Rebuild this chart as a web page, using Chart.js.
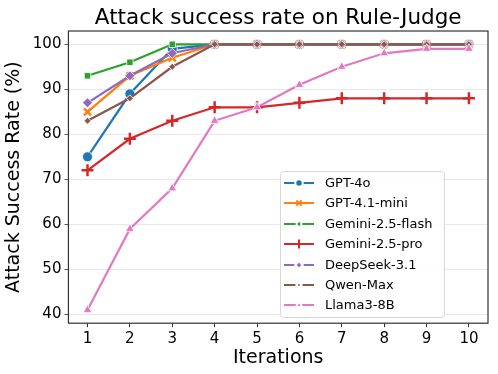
<!DOCTYPE html>
<html>
<head>
<meta charset="utf-8">
<script src="https://cdn.jsdelivr.net/npm/chart.js@4/dist/chart.umd.min.js"></script>
<style>
  html, body { margin: 0; padding: 0; background: #fff; }
  #wrap { width: 498px; height: 374px; }
</style>
</head>
<body>
<div id="wrap"><canvas id="chart" width="498" height="374"></canvas></div>
<script>
// Chart data
const iterations = [1, 2, 3, 4, 5, 6, 7, 8, 9, 10];
const yTicks = [40, 50, 60, 70, 80, 90, 100];

const gpt4o       = [75, 89, 99, 100, 100, 100, 100, 100, 100, 100];
const gpt41mini   = [85, 93, 97, 100, 100, 100, 100, 100, 100, 100];
const geminiFlash = [93, 96, 100, 100, 100, 100, 100, 100, 100, 100];
const geminiPro   = [72, 79, 83, 86, 86, 87, 88, 88, 88, 88];
const deepseek    = [87, 93, 98, 100, 100, 100, 100, 100, 100, 100];
const qwenMax     = [83, 88, 95, 100, 100, 100, 100, 100, 100, 100];
const llama       = [41, 59, 68, 83, 86, 91, 95, 98, 99, 99];

const seriesNames = ['GPT-4o', 'GPT-4.1-mini', 'Gemini-2.5-flash', 'Gemini-2.5-pro', 'DeepSeek-3.1', 'Qwen-Max', 'Llama3-8B'];
const seriesValues = [gpt4o, gpt41mini, geminiFlash, geminiPro, deepseek, qwenMax, llama];
const seriesColors = ['#1f77b4', '#ff7f0e', '#2ca02c', '#d62728', '#9467bd', '#8c564b', '#e377c2'];
const markers = ['circle', 'crossRot', 'rect', 'cross', 'rectRot', 'rectRot', 'triangle'];
const markerSizes = [5, 5, 4.5, 6, 5, 3.5, 5];

const FONT = "'DejaVu Sans', sans-serif";

function makeDataset(i) {
    const color = seriesColors[i];
    const lineMarker = markers[i] === 'cross' || markers[i] === 'crossRot';
    return {
        label: seriesNames[i],
        data: seriesValues[i].map((v, k) => ({ x: iterations[k], y: v })),
        borderColor: color,
        backgroundColor: color,
        borderWidth: 2.2,
        pointStyle: markers[i],
        pointRadius: markerSizes[i],
        pointBackgroundColor: color,
        pointBorderColor: lineMarker ? color : '#ffffff',
        pointBorderWidth: lineMarker ? 2.5 : 0.8,
        tension: 0,
        order: seriesNames.length - i // later series drawn on top
    };
}

// Frame, title and legend drawn inside the plot like matplotlib does
const decorations = {
    id: 'decorations',
    afterDraw(chart) {
        const ctx = chart.ctx;
        const area = chart.chartArea;
        ctx.save();
        ctx.setLineDash([]);

        // axes frame
        ctx.strokeStyle = '#333';
        ctx.lineWidth = 1.2;
        ctx.strokeRect(area.left, area.top, area.right - area.left, area.bottom - area.top);

        // title centred on the plot area
        ctx.fillStyle = '#000';
        ctx.font = '21.5px ' + FONT;
        ctx.textAlign = 'center';
        ctx.textBaseline = 'middle';
        ctx.fillText('Attack success rate on Rule-Judge', (area.left + area.right) / 2, 18);

        // legend box
        const boxW = 164, boxH = 146;
        const bx = Math.round(area.right - 44 - boxW);
        const by = Math.round(area.bottom - 6 - boxH);
        ctx.fillStyle = 'rgba(255,255,255,0.85)';
        ctx.strokeStyle = '#d8d8d8';
        ctx.lineWidth = 1;
        ctx.beginPath();
        ctx.roundRect(bx + 0.5, by + 0.5, boxW, boxH, 3);
        ctx.fill();
        ctx.stroke();

        ctx.font = '13px ' + FONT;
        ctx.textAlign = 'left';
        ctx.textBaseline = 'middle';
        chart.data.datasets.forEach((ds, i) => {
            const y = Math.round(by + 12 + i * 20.4);
            ctx.setLineDash([]);
            ctx.strokeStyle = ds.borderColor;
            ctx.lineWidth = 2;
            ctx.beginPath();
            ctx.moveTo(bx + 4, y);
            ctx.lineTo(bx + 34, y);
            ctx.stroke();

            ctx.fillStyle = ds.borderColor;
            ctx.strokeStyle = ds.pointBorderColor;
            Chart.helpers.drawPoint(ctx, {
                pointStyle: ds.pointStyle,
                radius: ds.pointRadius * 0.75,
                rotation: 0,
                borderWidth: ds.pointBorderWidth
            }, bx + 19, y);

            ctx.fillStyle = '#000';
            ctx.fillText(ds.label, bx + 45, y + 1);
        });
        ctx.restore();
    }
};

new Chart(document.getElementById('chart'), {
    type: 'line',
    data: {
        datasets: seriesValues.map((_, i) => makeDataset(i))
    },
    options: {
        responsive: false,
        animation: false,
        layout: { padding: { top: 31, right: 10, left: 3, bottom: 5 } },
        plugins: {
            legend: { display: false },
            title: { display: false },
            tooltip: { enabled: false }
        },
        scales: {
            x: {
                type: 'linear',
                min: 0.55,
                max: 10.45,
                afterBuildTicks: scale => { scale.ticks = iterations.map(v => ({ value: v })); },
                ticks: { color: '#000', font: { family: FONT, size: 15 }, padding: 3 },
                grid: { drawOnChartArea: false, drawTicks: true, tickLength: 4, tickColor: '#333' },
                border: { display: false },
                title: { display: true, text: 'Iterations', color: '#000', font: { family: FONT, size: 19 }, padding: { top: -5, bottom: 0 } }
            },
            y: {
                min: 38.05,
                max: 102.95,
                afterBuildTicks: scale => { scale.ticks = yTicks.map(v => ({ value: v })); },
                ticks: { color: '#000', font: { family: FONT, size: 15 }, padding: 3 },
                grid: { color: '#e2e2e2', borderDash: [3, 2], lineWidth: 0.8, drawTicks: true, tickLength: 4, tickColor: '#333', tickBorderDash: [] },
                border: { display: false },
                title: { display: true, text: 'Attack Success Rate (%)', color: '#000', font: { family: FONT, size: 19 }, padding: { top: 0, bottom: 4 } }
            }
        }
    },
    plugins: [decorations]
});
</script>
</body>
</html>
